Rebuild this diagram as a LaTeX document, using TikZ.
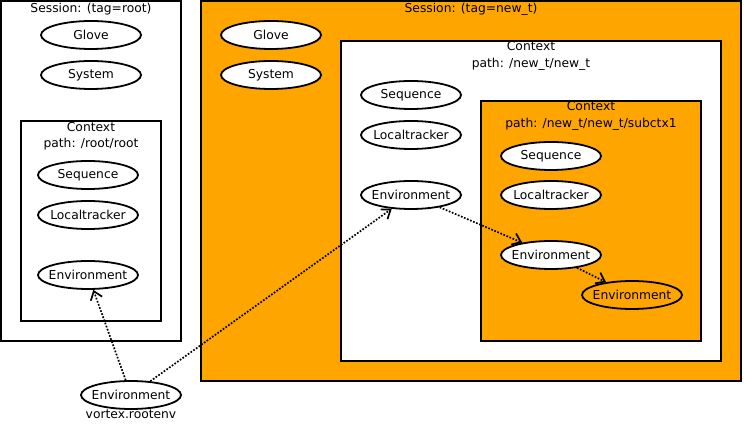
\documentclass[tikz,border=0pt]{standalone}
\usepackage{fontspec}
\setmainfont{DejaVu Sans}
\usetikzlibrary{shapes.geometric,arrows.meta}
\definecolor{gvorange}{HTML}{FFA500}
\newcommand{\lbl}[1]{\makebox[0pt]{#1}}

\begin{document}
\begin{tikzpicture}[x=1pt,y=-1pt,
  every node/.style={font=\fontsize{12.3}{16.5}\selectfont},
  box/.style={draw,line width=2pt},
  obj/.style={draw,ellipse,line width=1.8pt,fill=white,minimum width=100pt,minimum height=28pt,inner sep=0pt},
  link/.style={line width=1.7pt,dash pattern=on 1.7pt off 1.6pt,-{Straight Barb[length=8pt,width=12pt]}}]
\useasboundingbox (0,0) rectangle (744,427);
% session root
\draw[box] (1,1) rectangle (181,341);
\node (sessroot) at (91,9) {Session: (tag=root)};
\node[obj] (gloveroot) at (91,35) {\lbl{Glove}};
\node[obj] (sysroot) at (91,75) {\lbl{System}};
\draw[box] (21,121) rectangle (161,321);
\node[align=center] (ctxroot) at (91,136) {Context\\path: /root/root};
\node[obj] (seqroot) at (88,175) {\lbl{Sequence}};
\node[obj] (ltroot) at (88,215) {\lbl{Localtracker}};
\node[obj] (envroot) at (88,275) {\lbl{Environment}};
% session new_t
\draw[box,fill=gvorange] (201,1) rectangle (741,381);
\node (sesst) at (471,9) {Session: (tag=new\_t)};
\node[obj] (glovet) at (271,35) {\lbl{Glove}};
\node[obj] (syst) at (271,75) {\lbl{System}};
\draw[box,fill=white] (341,41) rectangle (721,361);
\node[align=center] (ctxt) at (531,56) {Context\\path: /new\_t/new\_t};
\node[obj] (seqt) at (411,95) {\lbl{Sequence}};
\node[obj] (ltt) at (411,135) {\lbl{Localtracker}};
\node[obj] (envt) at (411,195) {\lbl{Environment}};
\draw[box,fill=gvorange] (481,101) rectangle (701,341);
\node[align=center] (ctxs) at (591,116) {Context\\path: /new\_t/new\_t/subctx1};
\node[obj] (seqs) at (551,156) {\lbl{Sequence}};
\node[obj] (lts) at (551,195) {\lbl{Localtracker}};
\node[obj] (envs) at (551,255) {\lbl{Environment}};
\node[obj,fill=gvorange] (envo) at (632,295) {\lbl{Environment}};
% vortex root env
\node[obj] (envv) at (131,395) {\lbl{Environment}};
\node (rootenv) at (131,414) {vortex.rootenv};
\draw[link] (envv) -- (envroot);
\draw[link] (envv) -- (envt);
\draw[link] (envt) -- (envs);
\draw[link] (envs) -- (envo);
\end{tikzpicture}
\end{document}
